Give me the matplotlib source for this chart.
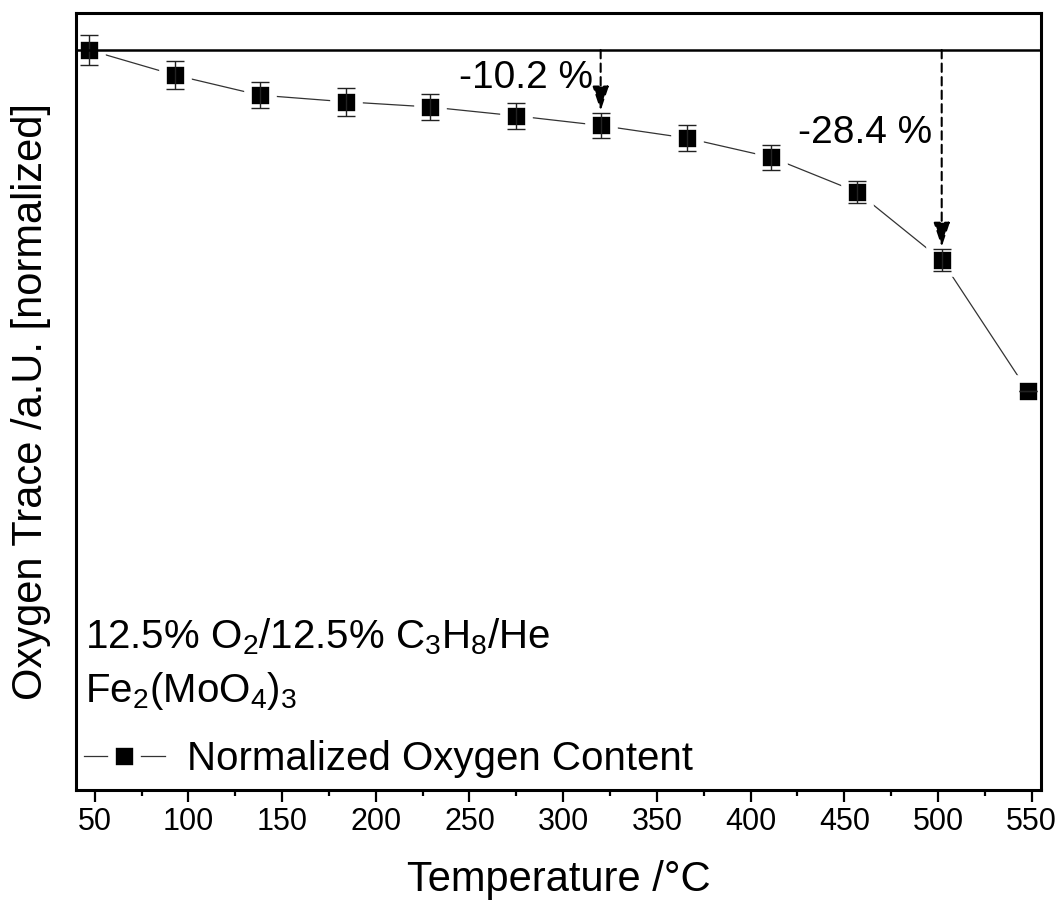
import numpy as np
import matplotlib
matplotlib.use("Agg")
import matplotlib.pyplot as plt
from matplotlib.ticker import MultipleLocator

plt.rcParams['font.family'] = ['Liberation Sans', 'DejaVu Sans']
plt.rcParams['mathtext.fontset'] = 'custom'
plt.rcParams['mathtext.rm'] = 'Liberation Sans'
plt.rcParams['mathtext.it'] = 'Liberation Sans:italic'
plt.rcParams['mathtext.bf'] = 'Liberation Sans:bold'

# Oxygen trace during the temperature ramp, normalized to the first point
temperature = [47, 93, 138, 184, 229, 275, 320, 366, 411, 457, 502, 548]
oxygen = [1.000, 0.966, 0.939, 0.930, 0.923, 0.911, 0.898, 0.881, 0.855, 0.808, 0.716, 0.539]
oxygen_err = [0.020, 0.019, 0.018, 0.019, 0.018, 0.018, 0.017, 0.018, 0.017, 0.015, 0.015, 0.0]

# Marked losses relative to the starting value
drop_temps = [320, 502]
drop_values = [-10.2, -28.4]
drop_label_pos = [(280, 0.962), (461, 0.888)]

fig = plt.figure(figsize=(10.64, 9.10), dpi=100)
ax = fig.add_axes([0.0714, 0.1319, 0.907, 0.8538])

ax.plot(temperature, oxygen, color='#333333', lw=0.9, marker='s', markersize=18,
        markerfacecolor='black', markeredgecolor='white', markeredgewidth=5.5,
        zorder=2, label='Normalized Oxygen Content')
ax.errorbar(temperature, oxygen, yerr=oxygen_err, fmt='none', ecolor='#222222',
            elinewidth=1.0, capsize=6.5, capthick=1.0, zorder=3)

ax.axhline(1.0, color='black', lw=1.8, zorder=4)

for t, d, pos in zip(drop_temps, drop_values, drop_label_pos):
    i = temperature.index(t)
    tip = oxygen[i] + oxygen_err[i] + 0.003
    ax.annotate('', xy=(t, tip), xytext=(t, 1.0),
                arrowprops=dict(arrowstyle='-|>,head_length=0.75,head_width=0.25',
                                linestyle=(0, (4, 2.5)), lw=1.5, color='black',
                                shrinkA=0, shrinkB=0, mutation_scale=20),
                zorder=5)
    ax.text(pos[0], pos[1], f'{d:.1f} %', fontsize=28, ha='center', va='center')

ax.text(0.009, 0.197, r'12.5% O$_2$/12.5% C$_3$H$_8$/He', transform=ax.transAxes,
        fontsize=29, ha='left', va='center')
ax.text(0.009, 0.128, r'Fe$_2$(MoO$_4$)$_3$', transform=ax.transAxes,
        fontsize=29, ha='left', va='center')

ax.legend(loc='lower left', bbox_to_anchor=(0.0, 0.005), frameon=False, fontsize=29,
          handlelength=2.0, handletextpad=0.55, borderaxespad=0.0, borderpad=0.2)

ax.set_xlim(40, 555)
ax.set_ylim(0, 1.05)
ax.xaxis.set_major_locator(MultipleLocator(50))
ax.xaxis.set_minor_locator(MultipleLocator(25))
ax.set_yticks([])
ax.tick_params(axis='x', which='major', direction='out', length=8.5, width=1.6,
               labelsize=22, pad=4)
ax.tick_params(axis='x', which='minor', direction='out', length=4.5, width=1.6)

for spine in ax.spines.values():
    spine.set_linewidth(2.2)

ax.set_xlabel('Temperature /°C', fontsize=30, labelpad=16)
ax.set_ylabel('Oxygen Trace /a.U. [normalized]', fontsize=30, labelpad=18)

fig.savefig('out.png', dpi=100)
